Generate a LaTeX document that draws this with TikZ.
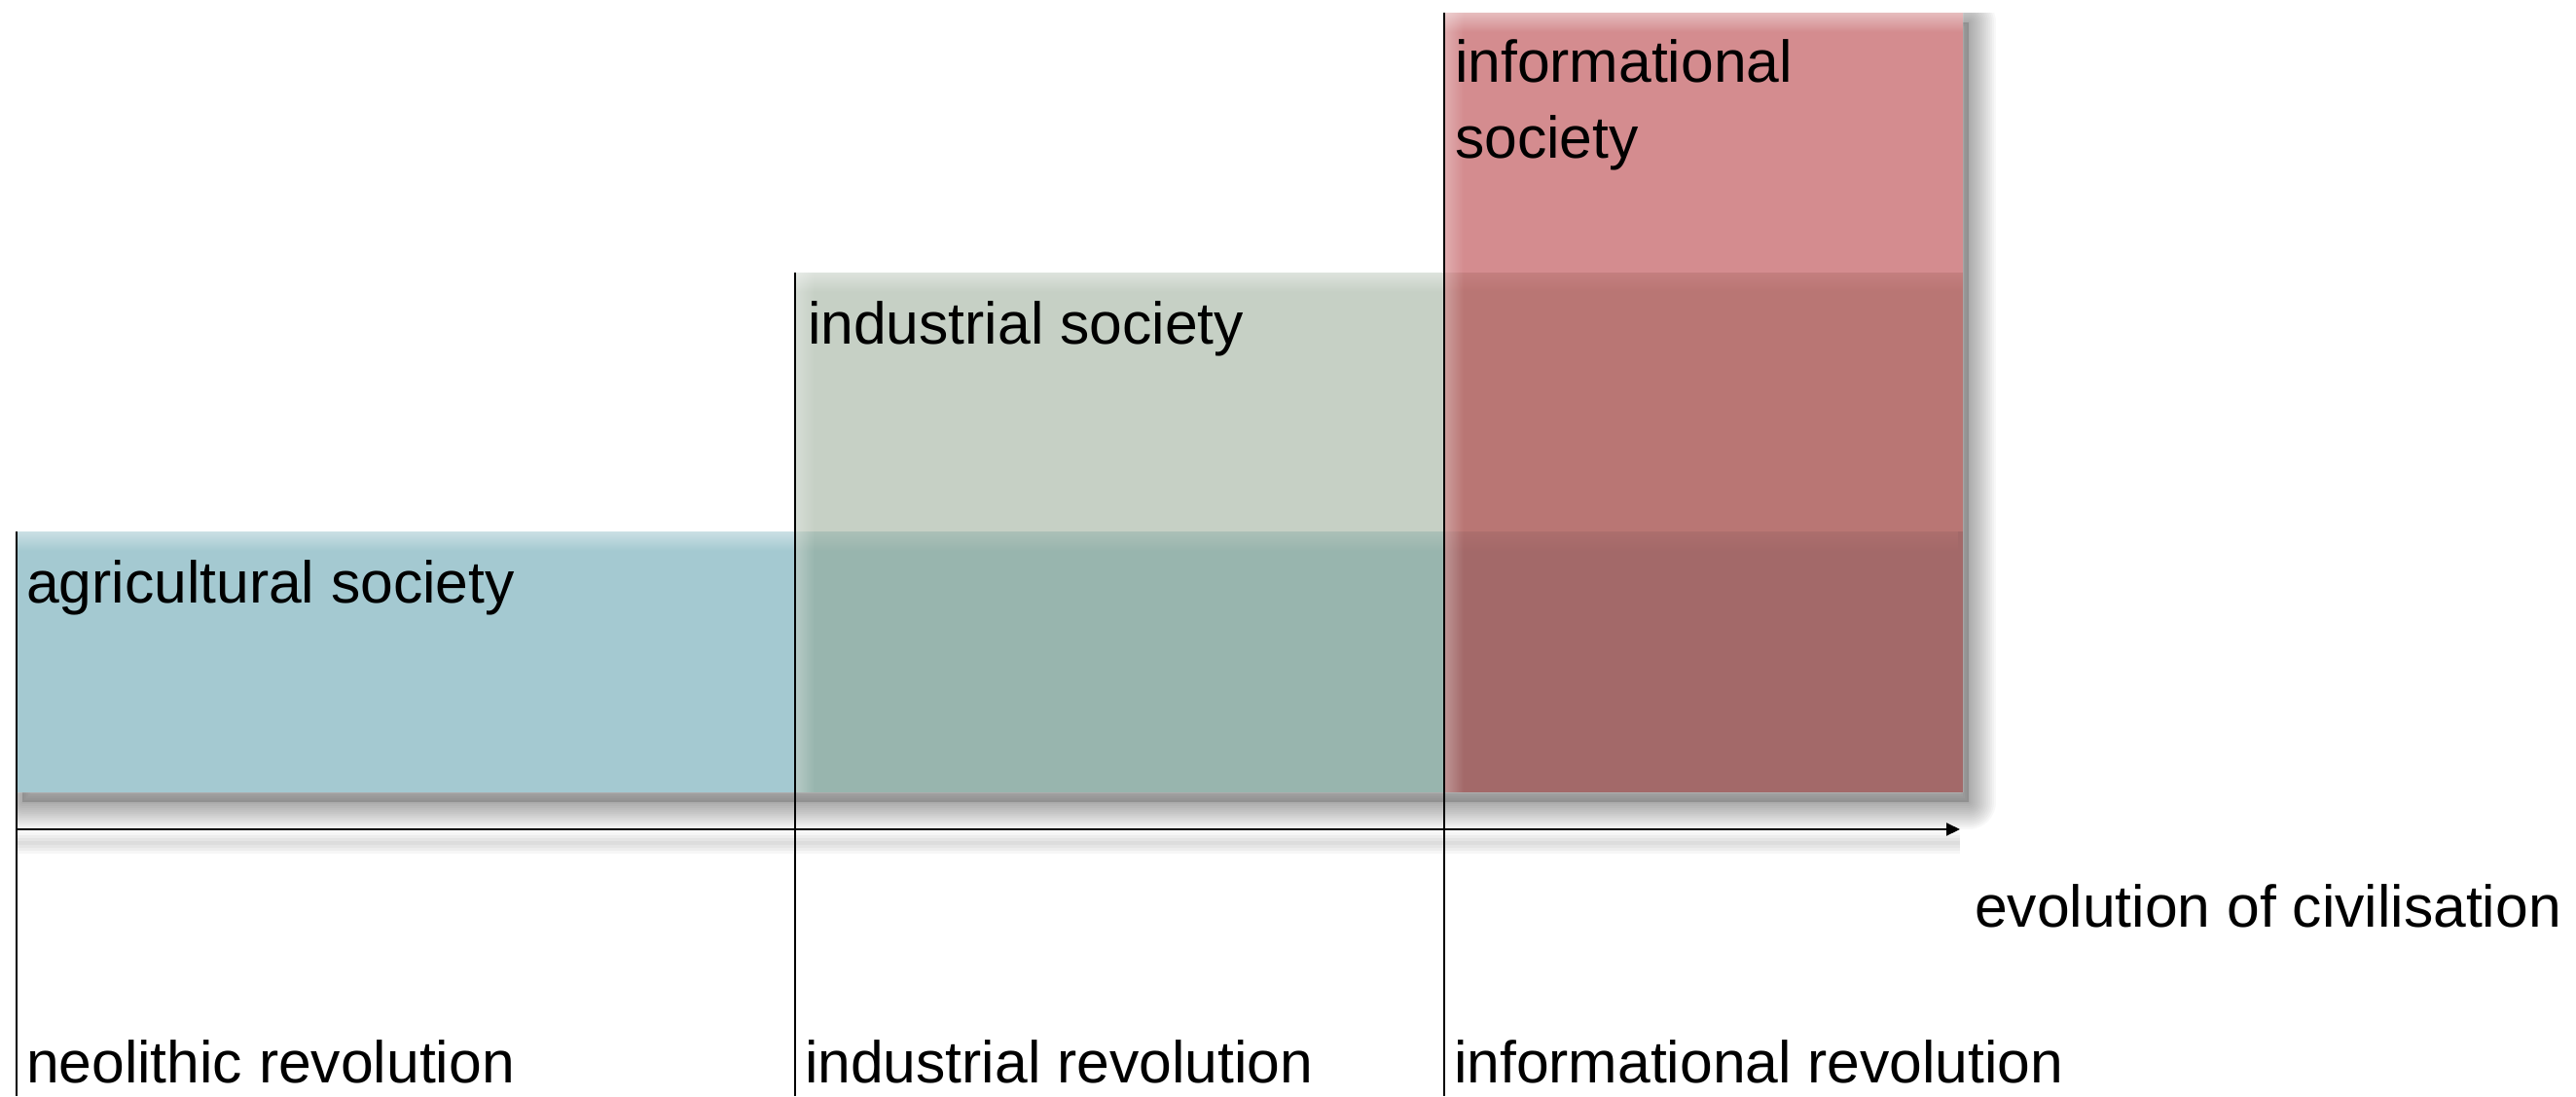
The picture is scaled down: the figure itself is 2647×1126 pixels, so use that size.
\documentclass[tikz,border=0pt]{standalone}
\usepackage{fontspec}
\setmainfont{Liberation Sans}
\usetikzlibrary{arrows.meta,fadings}
\definecolor{agriC}{RGB}{164,201,209}
\definecolor{induC}{RGB}{142,162,140}
\definecolor{infoC}{RGB}{174,38,44}
\begin{document}
\begin{tikzpicture}[x=0.5pt,y=-0.5pt,
  lab/.style={font=\fontsize{30.3pt}{39pt}\selectfont, inner sep=0pt, outer sep=0pt, anchor=base west, text=black},
  band/.style={inner sep=0pt, outer sep=0pt, anchor=north west, draw=none},
  era/.style={line width=1pt, black},
  glowtop/.style={fill=white, path fading=south, fill opacity=0.42},
  glowleft/.style={fill=white, path fading=east, fill opacity=0.3},
  shadowstroke/.style={black, opacity=0.026, line join=round},
]
\useasboundingbox (0,0) rectangle (2647,1126);
\coordinate (bot) at (0,1126);

% soft shadow of the whole staircase of bands (only right of / below it)
\begin{scope}
  \clip (17,546) -- (817,546) -- (817,280) -- (1484,280) -- (1484,13) -- (2647,13) -- (2647,1126) -- (17,1126) -- cycle;
  \begin{scope}[shift={(6,10)}]
    \fill[black, opacity=0.16] (17,546) -- (817,546) -- (817,280) -- (1484,280) -- (1484,13) -- (2017,13) -- (2017,814) -- (17,814) -- cycle;
    \foreach \w in {2,4,...,28}
      \draw[shadowstroke, line width=\w pt] (17,546) -- (817,546) -- (817,280) -- (1484,280) -- (1484,13) -- (2017,13) -- (2017,814) -- (17,814) -- cycle;
  \end{scope}
\end{scope}
\fill[white] (17,546) -- (817,546) -- (817,280) -- (1484,280) -- (1484,13) -- (2017,13) -- (2017,814) -- (17,814) -- cycle;

% bands
\node[band, fill=agriC, minimum width=1000pt, minimum height=134pt] (agri) at (17,546) {};
\fill[glowtop] (agri.north west) rectangle ([yshift=-10pt]agri.north east);

\node[band, fill=induC, fill opacity=0.5, minimum width=600pt, minimum height=267pt] (indu) at (817,280) {};
\fill[glowtop] (indu.north west) rectangle ([yshift=-10pt]indu.north east);
\fill[glowleft] (indu.north west) rectangle ([xshift=10pt]indu.south west);

\node[band, fill=infoC, fill opacity=0.53, minimum width=266.5pt, minimum height=400.5pt] (info) at (1484,13) {};
\fill[glowtop] (info.north west) rectangle ([yshift=-10pt]info.north east);
\fill[glowleft] (info.north west) rectangle ([xshift=10pt]info.south west);

% axis
\coordinate (axs) at (17,852);
\coordinate (axe) at (2014,852);
\foreach \w in {2,5,8,11}
  \draw[black, opacity=0.035, line width=\w pt] ([yshift=-7pt]axs) -- ([yshift=-7pt]axe);
\draw[line width=1pt, -{Triangle[length=7pt,width=6.5pt]}] (axs) -- (axe);

% era lines
\draw[era] (agri.north west) -- (agri.north west |- bot);
\draw[era] (indu.north west) -- (indu.north west |- bot);
\draw[era] (info.north west) -- (info.north west |- bot);

% labels
\node[lab] (agrilab) at (27,619) {agricultural society};
\node[lab] (indulab) at (830,353) {industrial society};
\node[lab, anchor=north west, align=left] (infolab) at (1495,41) {informational\\society};
\node[lab] (evo) at (2029,952) {evolution of civilisation};
\node[lab] (neo) at (27,1112) {neolithic revolution};
\node[lab] (indrev) at (827,1112) {industrial revolution};
\node[lab] (infrev) at (1494,1112) {informational revolution};
\end{tikzpicture}
\end{document}
